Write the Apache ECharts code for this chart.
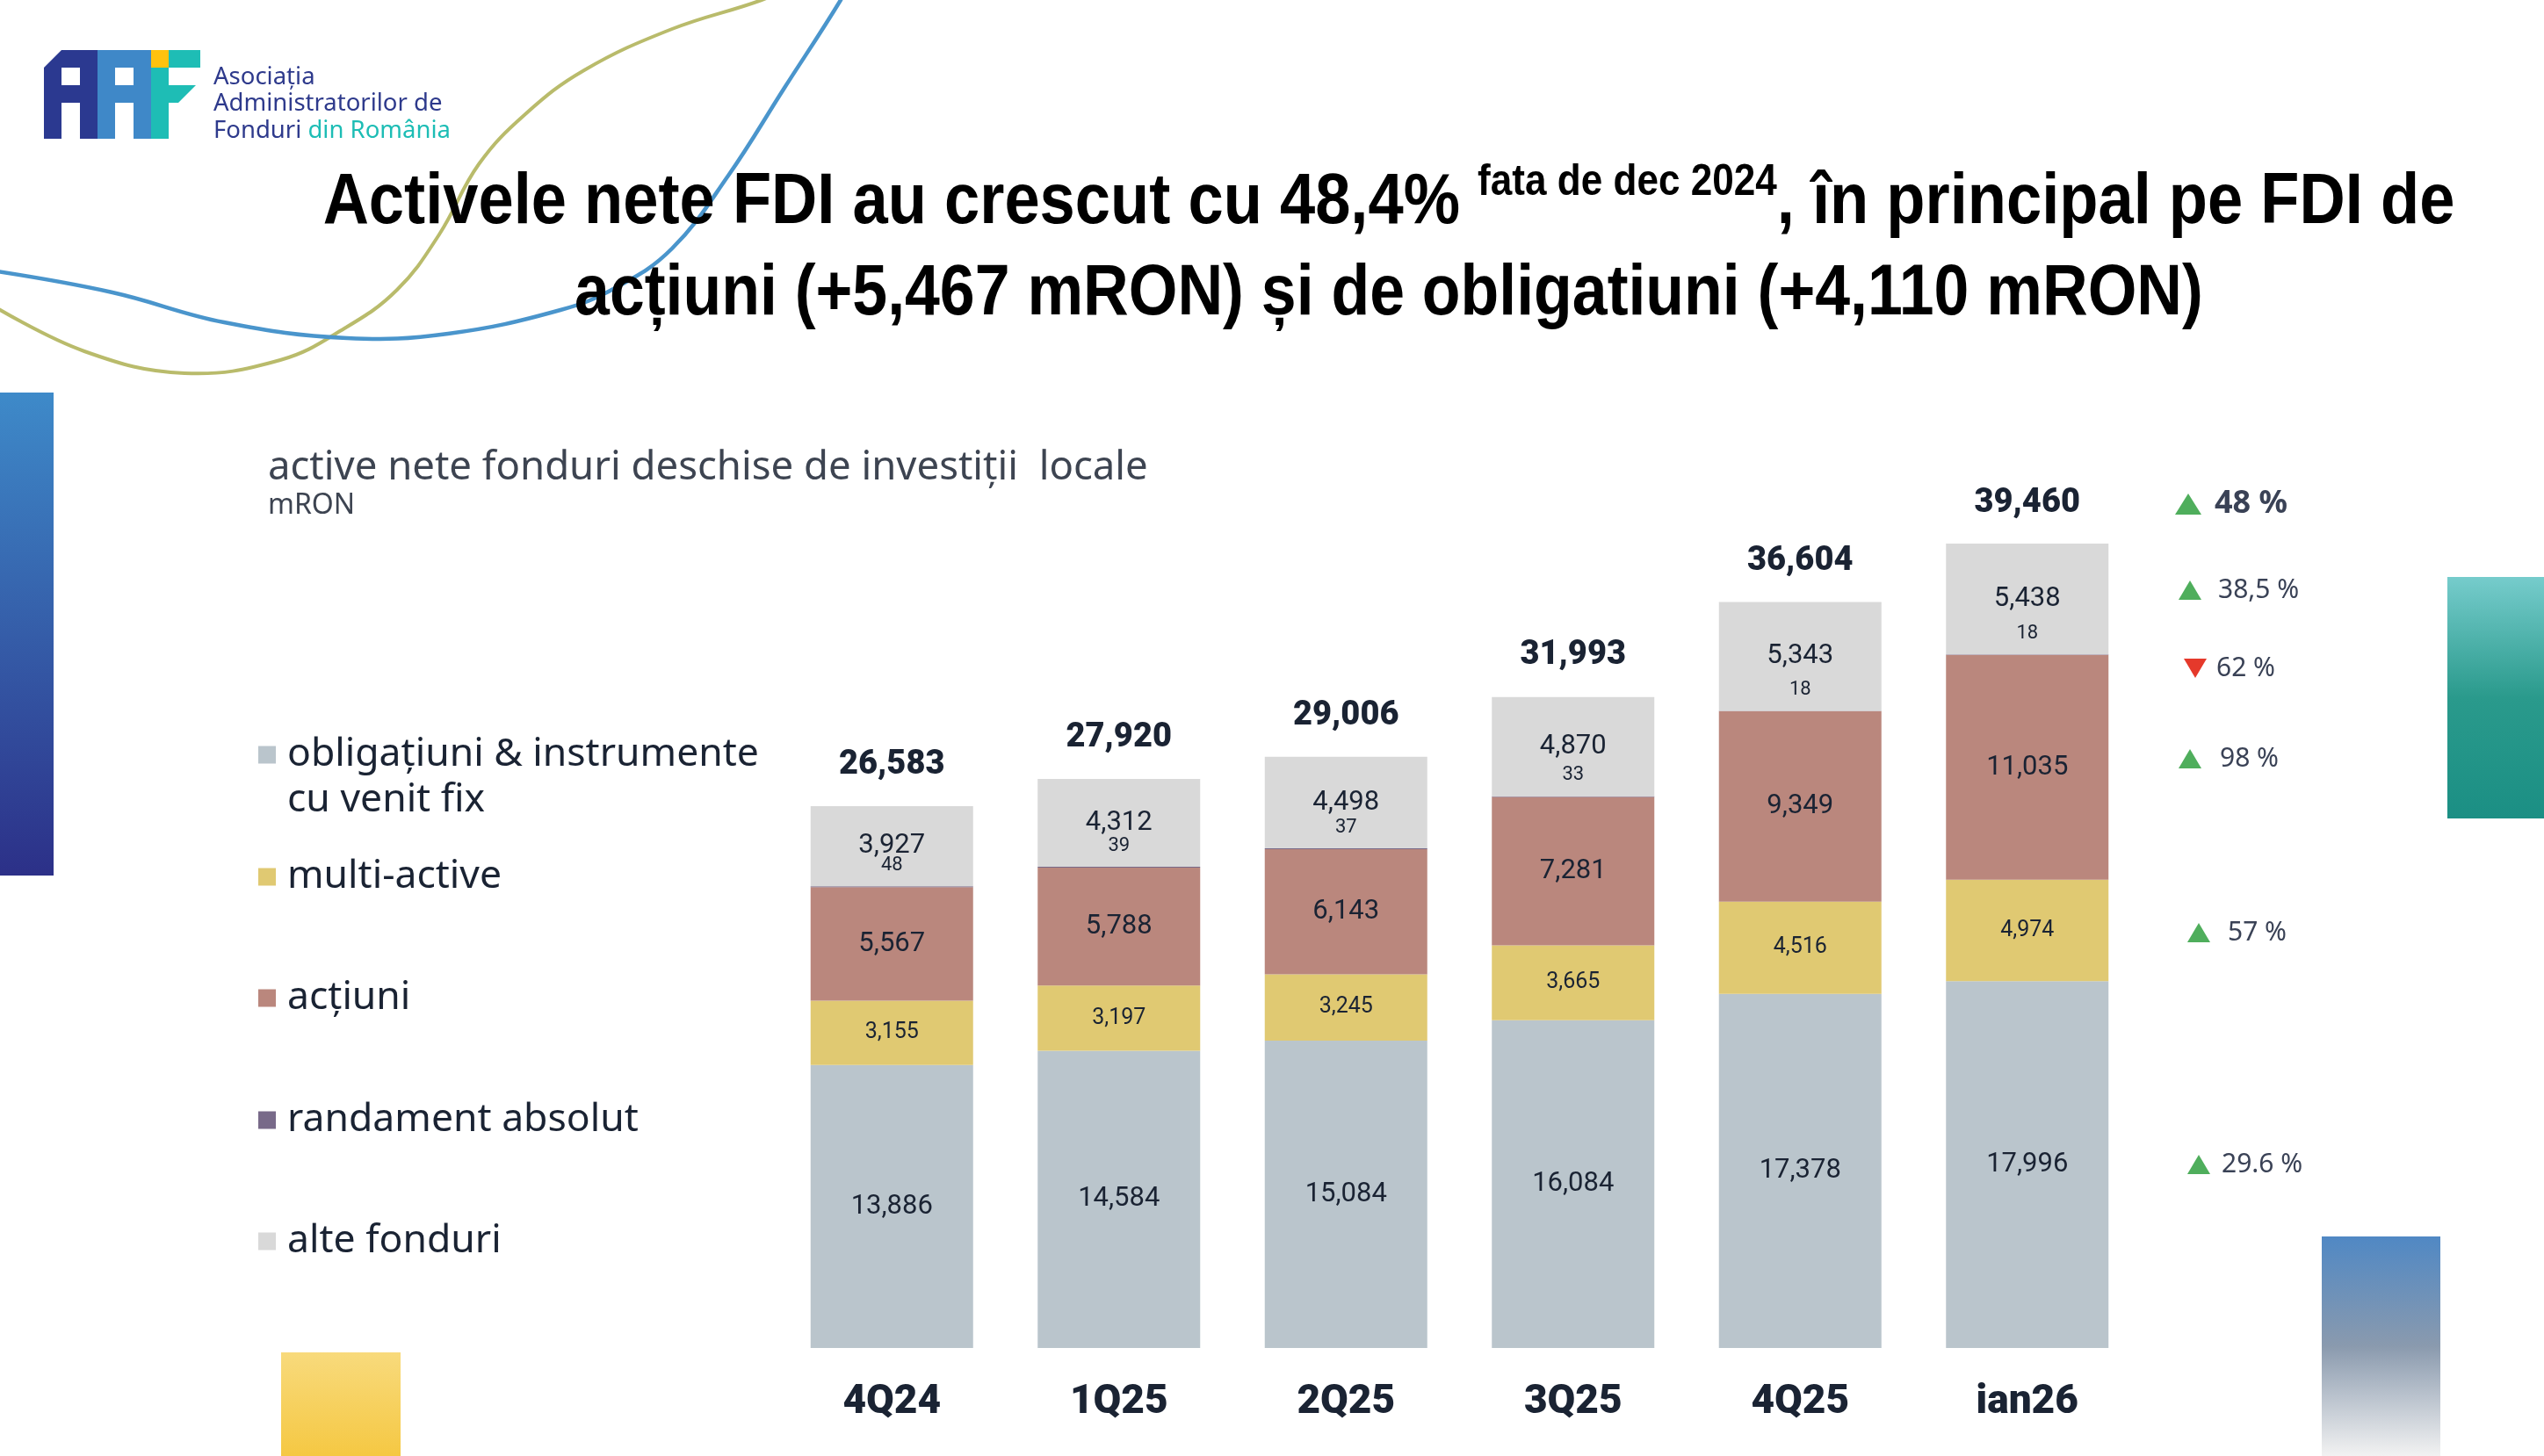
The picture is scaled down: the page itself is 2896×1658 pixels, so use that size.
<!DOCTYPE html>
<html><head><meta charset="utf-8">
<script src="https://cdn.jsdelivr.net/npm/echarts@6/dist/echarts.min.js"></script>
<style>html,body{margin:0;padding:0;background:#fff;}#c{width:2896px;height:1658px;}</style>
</head><body><div id="c"></div>
<script>
// ---------- DATA ----------
const categories = ['4Q24', '1Q25', '2Q25', '3Q25', '4Q25', 'ian26'];
const seriesNames = ['obligațiuni & instrumente', 'multi-active', 'acțiuni', 'randament absolut', 'alte fonduri'];
const obligatiuni = [13886, 14584, 15084, 16084, 17378, 17996];
const multiActive = [3155, 3197, 3245, 3665, 4516, 4974];
const actiuni = [5567, 5788, 6143, 7281, 9349, 11035];
const randament = [48, 39, 37, 33, 18, 18];
const alteFonduri = [3927, 4312, 4498, 4870, 5343, 5438];
const totals = [26583, 27920, 29006, 31993, 36604, 39460];
const changeLabels = ['48 %', '38,5 %', '62 %', '98 %', '57 %', '29.6 %'];
const changeDirections = ['up', 'up', 'down', 'up', 'up', 'up'];

// ---------- STYLE / LAYOUT ----------
const colors = ['#BAC5CC', '#E0C972', '#BA877D', '#786A89', '#D9D9D9'];
const dark = '#1A2333';
const numFont = 'Roboto';
const textFont = '"Noto Sans"';
const fmt = v => Number(v).toLocaleString('en-US');

const legendRows = [859, 998, 1136, 1275, 1413];
const changeLayout = [
  {tx: 2491, x: 2521, y: 574, bold: true},
  {tx: 2493, x: 2525, y: 672},
  {tx: 2499, x: 2523, y: 761},
  {tx: 2493, x: 2527, y: 864},
  {tx: 2503, x: 2536, y: 1062},
  {tx: 2503, x: 2529, y: 1326}
];

function grad(c0, c1, c2) {
  const stops = c2 ? [{offset: 0, color: c0}, {offset: 0.5, color: c1}, {offset: 1, color: c2}]
                   : [{offset: 0, color: c0}, {offset: 1, color: c1}];
  return new echarts.graphic.LinearGradient(0, 0, 0, 1, stops);
}

const graphics = [];
// decorative blocks
graphics.push({type: 'rect', shape: {x: 0, y: 447, width: 61, height: 550}, style: {fill: grad('#3E8AC9', '#2C3088')}, z: 1});
graphics.push({type: 'rect', shape: {x: 2786, y: 657, width: 110, height: 275}, style: {fill: grad('#76CCCC', '#2A9A8C', '#1B8F84')}, z: 1});
graphics.push({type: 'rect', shape: {x: 2643, y: 1408, width: 135, height: 250}, style: {fill: grad('#5088C4', '#8A9AAE', '#F2F2F2')}, z: 1});
graphics.push({type: 'rect', shape: {x: 320, y: 1540, width: 136, height: 118}, style: {fill: grad('#F8DA7C', '#F5C843')}, z: 1});
// curves
graphics.push({type: 'polyline', shape: {smooth: 0.4, points: [[-10,347],[96,400],[210,425],[319,410],[392,374],[452,330],[500,267],[545,187],[598,130],[665,80],[765,33],[867,0],[910,-20]]}, style: {stroke: '#B9BB6B', lineWidth: 4, fill: null}, z: 2});
graphics.push({type: 'polyline', shape: {smooth: 0.4, points: [[-10,308],[128,333],[255,367],[395,385],[510,380],[638,353],[702,327],[765,283],[829,200],[893,100],[957,0],[966,-20]]}, style: {stroke: '#4A95CC', lineWidth: 4.5, fill: null}, z: 2});
// logo
graphics.push({type: 'polygon', shape: {points: [[50,77],[70,57],[111,57],[111,158],[91,158],[91,117],[70,117],[70,158],[50,158]]}, style: {fill: '#2B3990'}, z: 3});
graphics.push({type: 'rect', shape: {x: 70, y: 77, width: 21, height: 20}, style: {fill: '#fff'}, z: 4});
graphics.push({type: 'polygon', shape: {points: [[111,57],[172,57],[172,158],[152,158],[152,117],[131,117],[131,158],[111,158]]}, style: {fill: '#3F88C8'}, z: 3});
graphics.push({type: 'rect', shape: {x: 131, y: 77, width: 21, height: 20}, style: {fill: '#fff'}, z: 4});
graphics.push({type: 'rect', shape: {x: 172, y: 57, width: 20, height: 20}, style: {fill: '#FFC20E'}, z: 3});
graphics.push({type: 'rect', shape: {x: 192, y: 57, width: 36, height: 20}, style: {fill: '#1EBDB5'}, z: 3});
graphics.push({type: 'rect', shape: {x: 172, y: 77, width: 20, height: 81}, style: {fill: '#1EBDB5'}, z: 3});
graphics.push({type: 'polygon', shape: {points: [[192,97],[223,97],[203,117],[192,117]]}, style: {fill: '#1EBDB5'}, z: 3});
const logoText = (t, y) => ({type: 'text', x: 243, y: y, z: 3, style: {text: t, fontSize: 27.5, fontFamily: textFont, fill: '#2E3A8C', align: 'left', verticalAlign: 'middle',
  rich: {n: {fontSize: 27.5, fontFamily: textFont, fill: '#2E3A8C'}, t: {fontSize: 27.5, fontFamily: textFont, fill: '#1DBDB5'}}}});
graphics.push(logoText('Asociația', 88));
graphics.push(logoText('Administratorilor de', 118));
graphics.push(logoText('{n|Fonduri }{t|din România}', 149));
// title
const titleRich = {
  a: {fontSize: 82, fontWeight: 'bold', fontFamily: '"Liberation Sans"', fill: '#000', lineHeight: 96},
  b: {fontSize: 50, fontWeight: 'bold', fontFamily: '"Liberation Sans"', fill: '#000', lineHeight: 78, verticalAlign: 'top'}
};
graphics.push({type: 'text', x: 1581, y: 231, scaleX: 0.882, z: 5, style: {
  text: '{a|Activele nete FDI au crescut cu 48,4% }{b|fata de dec 2024}{a|, în principal pe FDI de}',
  rich: titleRich, align: 'center', verticalAlign: 'middle'}});
graphics.push({type: 'text', x: 1581, y: 335, scaleX: 0.873, z: 5, style: {
  text: '{a|acțiuni (+5,467 mRON) și de obligatiuni (+4,110 mRON)}',
  rich: titleRich, align: 'center', verticalAlign: 'middle'}});
// subtitle
graphics.push({type: 'text', x: 305, y: 533, z: 5, style: {text: 'active nete fonduri deschise de investiții  locale', fontSize: 45.5, fontFamily: textFont, fill: '#3D4451', align: 'left', verticalAlign: 'middle'}});
graphics.push({type: 'text', x: 305, y: 576, z: 5, style: {text: 'mRON', fontSize: 32, fontFamily: textFont, fill: '#3D4451', align: 'left', verticalAlign: 'middle'}});
// legend second line
graphics.push({type: 'text', x: 327, y: 911, z: 5, style: {text: 'cu venit fix', fontSize: 44.5, fontFamily: textFont, fill: dark, align: 'left', verticalAlign: 'middle'}});
// change annotations
changeLabels.forEach((lab, i) => {
  const L = changeLayout[i];
  const w = L.bold ? 15 : 13, h = L.bold ? 12 : 11;
  const up = changeDirections[i] === 'up';
  const pts = up ? [[L.tx - w, L.y + h], [L.tx + w, L.y + h], [L.tx, L.y - h]]
                 : [[L.tx - w, L.y - h], [L.tx + w, L.y - h], [L.tx, L.y + h]];
  graphics.push({type: 'polygon', shape: {points: pts}, style: {fill: up ? '#4FAE5C' : '#E5392B'}, z: 5});
  graphics.push({type: 'text', x: L.x, y: L.y, z: 5, style: {text: lab, fontSize: L.bold ? 36 : 30, fontWeight: L.bold ? 'bold' : 'normal', fontFamily: textFont, fill: '#3A4256', align: 'left', verticalAlign: 'middle'}});
});

const seriesData = [obligatiuni, multiActive, actiuni, randament, alteFonduri];
const labelSizes = [31, 25, 31, 22, 31];
const series = seriesData.map((d, i) => ({
  name: seriesNames[i], type: 'bar', stack: 'total', data: d, barWidth: 185,
  itemStyle: {color: colors[i]},
  label: {
    show: true,
    position: i === 3 ? 'top' : 'inside',
    distance: 13,
    fontSize: labelSizes[i], fontFamily: numFont, color: dark,
    formatter: p => fmt(p.value)
  }
}));
series.push({
  name: 'total', type: 'scatter', data: totals, symbolSize: 0,
  itemStyle: {color: dark},
  label: {show: true, position: 'top', distance: 27, fontSize: 38, fontWeight: 900, fontFamily: numFont, color: dark, opacity: 1, formatter: p => fmt(p.value)},
  z: 10
});

const option = {
  animation: false,
  backgroundColor: '#fff',
  grid: {left: 886, right: 459, top: 490.5, bottom: 123, containLabel: false},
  xAxis: {type: 'category', data: categories, axisLine: {show: false}, axisTick: {show: false},
    axisLabel: {fontSize: 46, fontWeight: 900, fontFamily: numFont, color: dark, margin: 39}},
  yAxis: {type: 'value', min: 0, max: 45000, show: false, splitLine: {show: false}},
  legend: seriesNames.map((n, i) => ({
    data: [n], left: 294, top: legendRows[i] - 22, padding: 0, itemWidth: 20, itemHeight: 20, icon: 'rect', selectedMode: false,
    textStyle: {fontSize: 44.5, lineHeight: 44, color: dark, fontFamily: textFont, padding: [0, 0, 0, 8]}
  })),
  graphic: graphics,
  series: series
};
const chart = echarts.init(document.getElementById('c'));
chart.setOption(option);
</script></body></html>
